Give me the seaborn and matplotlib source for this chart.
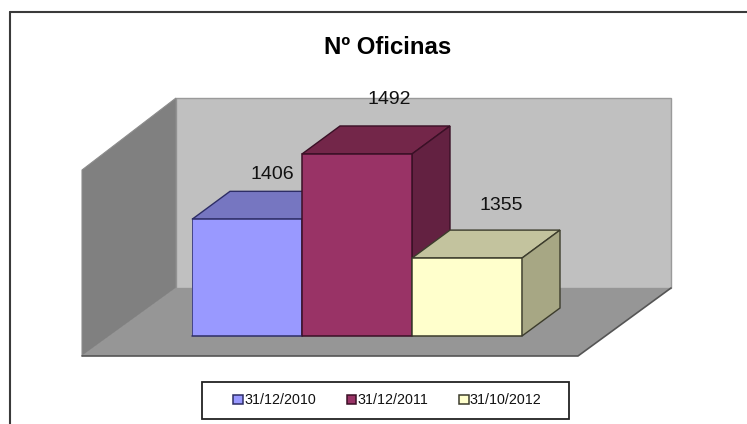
import matplotlib
matplotlib.use("Agg")
import matplotlib.pyplot as plt
from matplotlib.patches import Polygon, Rectangle
import pandas as pd
import seaborn as sns

DATES = ["31/12/2010", "31/12/2011", "31/10/2012"]
OFICINAS = [1406, 1492, 1355]

FRONT_COLORS = ["#9999FF", "#993366", "#FFFFCC"]
TOP_COLORS = ["#7676C1", "#732649", "#C3C39E"]
SIDE_COLORS = ["#6A6AB0", "#632141", "#A7A784"]
EDGE_COLORS = ["#2E2E66", "#3A1026", "#3C3C2C"]

W, H = 747, 424
DEPTH_X, DEPTH_Y = 38, 28  # pixels of the fake 3d depth

sns.set_theme(style="white")
plt.rcParams["font.family"] = ["Liberation Sans", "DejaVu Sans"]

fig = plt.figure(figsize=(W / 100, H / 100), dpi=100, facecolor="white")

# background layer in image pixels: frame, walls and floor
bg = fig.add_axes([0, 0, 1, 1], zorder=0)
bg.set_xlim(0, W)
bg.set_ylim(H, 0)
bg.axis("off")
bg.plot([10, 10], [H, 12], color="#3a3a3a", lw=1.5)
bg.plot([10, W], [12, 12], color="#3a3a3a", lw=1.5)
bg.add_patch(Polygon([(176, 98), (671, 98), (671, 288), (176, 288)],
                     fc="#C0C0C0", ec="#9a9a9a", lw=1))
bg.add_patch(Polygon([(82, 170), (176, 98), (176, 288), (82, 356)],
                     fc="#808080", ec="#8c8c8c", lw=0.8))
bg.add_patch(Polygon([(82, 356), (176, 288), (671, 288), (578, 356)],
                     fc="#969696", ec="none"))
bg.plot([82, 578, 671], [356, 356, 288], color="#555555", lw=1.2)
bg.add_patch(Rectangle((202, 382), 367, 37, fc="white", ec="#222222", lw=1.3))

# bars live on an axes that spans exactly the front plane of the plot
ax = fig.add_axes([192 / W, 1 - 336 / H, 330 / W, 250 / H], zorder=1)
df = pd.DataFrame({"date": DATES, "oficinas": OFICINAS})
sns.barplot(data=df, x="date", y="oficinas", hue="date", hue_order=DATES,
            palette=FRONT_COLORS, width=1, dodge=False, saturation=1,
            edgecolor="#2a2a3a", linewidth=1.1, legend=True, ax=ax, zorder=5)
ax.set_ylim(1252.5, 1252.5 + 250 / 0.76)
ax.set_xlim(-0.5, 2.5)
ax.axis("off")


def to_px(x, y):
    px, py = ax.transData.transform((x, y))
    return px, H - py


# top and side faces follow from each bar's own rectangle
bars = [p for c in ax.containers for p in c.patches]
for i, bar in enumerate(bars):
    bar.set_edgecolor(EDGE_COLORS[i])
    x0, x1 = bar.get_x(), bar.get_x() + bar.get_width()
    ax.plot([x0, x1], [ax.get_ylim()[0]] * 2, color=EDGE_COLORS[i], lw=1.1,
            clip_on=False, zorder=6)
    xl, yt = to_px(x0, OFICINAS[i])
    xr, yb = to_px(x1, ax.get_ylim()[0])
    bg.add_patch(Polygon([(xl, yt), (xl + DEPTH_X, yt - DEPTH_Y),
                          (xr + DEPTH_X, yt - DEPTH_Y), (xr, yt)],
                         fc=TOP_COLORS[i], ec=EDGE_COLORS[i], lw=1, zorder=3))
    bg.add_patch(Polygon([(xr, yt), (xr + DEPTH_X, yt - DEPTH_Y),
                          (xr + DEPTH_X, yb - DEPTH_Y), (xr, yb)],
                         fc=SIDE_COLORS[i], ec=EDGE_COLORS[i], lw=1, zorder=3))

# value labels sit above the back edge of each top face
label_shift = [(6, 17), (13, 26), (15, 25)]
for i, bar in enumerate(bars):
    xc, yt = to_px(bar.get_x() + bar.get_width() / 2, OFICINAS[i])
    bg.text(xc + DEPTH_X / 2 + label_shift[i][0], yt - DEPTH_Y - label_shift[i][1],
            str(OFICINAS[i]), ha="center", va="center", fontsize=14,
            color="#111111", zorder=6)

bg.text(388, 47, "Nº Oficinas", ha="center", va="center", fontsize=17.3,
        fontweight="bold", color="black")

handles, labels = ax.get_legend_handles_labels()
leg = ax.legend(handles, labels, ncol=3, loc="center",
                bbox_to_anchor=(387.5 / W, 1 - 400.5 / H),
                bbox_transform=fig.transFigure, frameon=False,
                fontsize=10.3, handlelength=0.65,
                handleheight=0.65, handletextpad=0.1, columnspacing=2.16,
                borderpad=0, borderaxespad=0)
leg.set_zorder(10)
for txt in leg.get_texts():
    txt.set_color("#111111")
for h, color in zip(leg.legend_handles, EDGE_COLORS):
    h.set_edgecolor(color)

fig.savefig("out.png", dpi=100)
